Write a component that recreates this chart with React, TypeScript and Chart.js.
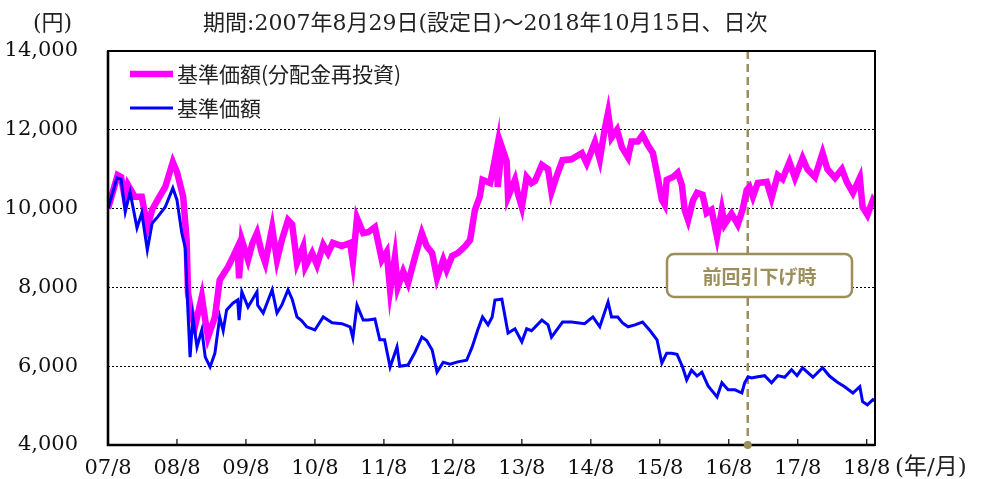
import React, { useEffect, useRef } from 'react';
import { Chart, registerables } from 'chart.js';

Chart.register(...registerables);

// ---- data ----
const xTickLabels = ['07/8', '08/8', '09/8', '10/8', '11/8', '12/8', '13/8', '14/8', '15/8', '16/8', '17/8', '18/8'];
const yTickLabels = ['4,000', '6,000', '8,000', '10,000', '12,000', '14,000'];
const seriesNames = ['基準価額(分配金再投資)', '基準価額'];
const titleText = '期間:2007年8月29日(設定日)～2018年10月15日、日次';
const yUnit = '(円)';
const xUnit = '(年/月)';
const markerLabel = '前回引下げ時';
const markerYear = 9.275; // years after 2007/8
const xMax = 11.12;

// years since 2007/8
const reinvestYears = [
  0.00, 0.14, 0.19, 0.25, 0.29, 0.39, 0.49, 0.57, 0.64, 0.72, 0.83, 0.94, 1.00, 1.09, 1.14, 1.16,
  1.22, 1.26, 1.36, 1.41, 1.45, 1.55, 1.62, 1.74, 1.81, 1.88, 1.90, 1.94, 2.03, 2.09, 2.16, 2.23,
  2.28, 2.38, 2.45, 2.52, 2.61, 2.67, 2.74, 2.83, 2.86, 2.96, 3.03, 3.12, 3.19, 3.26, 3.39, 3.51,
  3.55, 3.61, 3.70, 3.77, 3.87, 3.91, 3.97, 4.04, 4.09, 4.16, 4.20, 4.28, 4.35, 4.45, 4.55, 4.62,
  4.70, 4.77, 4.86, 4.91, 4.99, 5.07, 5.17, 5.25, 5.32, 5.39, 5.43, 5.54, 5.58, 5.64, 5.65, 5.71,
  5.78, 5.80, 5.90, 5.94, 6.00, 6.07, 6.14, 6.19, 6.29, 6.38, 6.43, 6.51, 6.59, 6.72, 6.87, 6.94,
  7.06, 7.13, 7.20, 7.25, 7.30, 7.38, 7.45, 7.54, 7.59, 7.68, 7.75, 7.83, 7.90, 7.97, 8.03, 8.07,
  8.10, 8.19, 8.26, 8.32, 8.36, 8.41, 8.48, 8.54, 8.62, 8.68, 8.75, 8.83, 8.90, 8.94, 9.04, 9.13,
  9.20, 9.26, 9.30, 9.35, 9.42, 9.55, 9.62, 9.71, 9.78, 9.88, 9.96, 10.07, 10.14, 10.25, 10.36, 10.43,
  10.54, 10.64, 10.71, 10.80, 10.90, 10.94, 11.01, 11.09, 11.12,
];
const reinvestValues = [
  10000, 10850, 10800, 10220, 10600, 10300, 10300, 9530, 9970, 10220, 10550, 11180, 10930, 10300, 9200, 7860,
  7250, 7000, 7760, 7170, 6740, 7250, 8190, 8520, 8770, 9030, 8230, 9200, 8700, 9100, 9380, 8870,
  8620, 9510, 8700, 9200, 9710, 9600, 8620, 9030, 8520, 8870, 8570, 9080, 8870, 9130, 9050, 9130,
  8650, 9760, 9380, 9400, 9530, 9200, 8700, 8900, 7940, 8770, 8000, 8400, 8110, 8770, 9380, 9050,
  8870, 8240, 8700, 8450, 8800, 8870, 9030, 9200, 9970, 10300, 10730, 10650, 10980, 11540, 10550, 11560,
  11200, 10300, 10730, 10400, 10040, 10800, 10650, 10700, 11110, 11000, 10420, 10850, 11230, 11250, 11410, 11150,
  11690, 11250, 12000, 12430, 11800, 12000, 11560, 11300, 11700, 11700, 11870, 11600, 11410, 10800, 10220, 10100,
  10730, 10800, 10910, 10600, 9970, 9710, 10200, 10400, 10350, 9890, 9970, 9280, 9970, 9600, 9870, 9600,
  9970, 10470, 10550, 10300, 10650, 10680, 10270, 10850, 10750, 11180, 10780, 11280, 11000, 10800, 11410, 11000,
  10780, 11000, 10680, 10400, 10780, 10040, 9840, 10220, 10150,
];

const navYears = [
  0.00, 0.13, 0.19, 0.25, 0.32, 0.42, 0.49, 0.57, 0.64, 0.72, 0.83, 0.94, 1.00, 1.07, 1.12, 1.16,
  1.19, 1.23, 1.29, 1.36, 1.41, 1.48, 1.55, 1.62, 1.67, 1.72, 1.81, 1.88, 1.90, 1.94, 2.03, 2.16,
  2.17, 2.25, 2.38, 2.45, 2.52, 2.61, 2.67, 2.74, 2.81, 2.88, 3.00, 3.12, 3.25, 3.39, 3.51, 3.55,
  3.61, 3.70, 3.77, 3.87, 3.94, 4.01, 4.09, 4.19, 4.23, 4.35, 4.45, 4.55, 4.62, 4.70, 4.77, 4.86,
  4.96, 5.07, 5.20, 5.28, 5.36, 5.43, 5.51, 5.57, 5.61, 5.71, 5.80, 5.90, 6.00, 6.07, 6.14, 6.29,
  6.38, 6.43, 6.59, 6.72, 6.91, 7.03, 7.13, 7.25, 7.30, 7.39, 7.46, 7.54, 7.64, 7.75, 7.86, 7.96,
  8.03, 8.10, 8.17, 8.25, 8.33, 8.39, 8.46, 8.54, 8.61, 8.70, 8.83, 8.90, 8.99, 9.09, 9.19, 9.23,
  9.28, 9.33, 9.42, 9.52, 9.62, 9.71, 9.81, 9.91, 9.99, 10.07, 10.22, 10.36, 10.46, 10.57, 10.68, 10.80,
  10.90, 10.94, 11.01, 11.09, 11.12,
];
const navValues = [
  10000, 10780, 10750, 9920, 10420, 9510, 9890, 8950, 9630, 9790, 10040, 10520, 10220, 9380, 9000, 7350,
  6230, 7250, 6490, 6920, 6230, 5980, 6330, 7250, 6900, 7430, 7600, 7680, 7170, 7890, 7500, 7890,
  7550, 7350, 7940, 7350, 7550, 7940, 7700, 7250, 7150, 7000, 6920, 7250, 7100, 7080, 7000, 6720,
  7550, 7170, 7170, 7200, 6670, 6670, 5980, 6490, 6000, 6030, 6350, 6740, 6650, 6410, 5850, 6100,
  6050, 6110, 6150, 6490, 6920, 7250, 7050, 7250, 7680, 7700, 6840, 6950, 6620, 6950, 6900, 7170,
  7050, 6740, 7120, 7120, 7080, 7250, 7000, 7630, 7250, 7250, 7100, 7000, 7050, 7120, 6900, 6670,
  6080, 6330, 6330, 6300, 5980, 5650, 5900, 5750, 5850, 5500, 5220, 5580, 5400, 5400, 5320, 5580,
  5730, 5700, 5730, 5760, 5580, 5760, 5720, 5910, 5760, 5960, 5720, 5960, 5750, 5600, 5480, 5320,
  5480, 5100, 5020, 5150, 5120,
];

const OLIVE = '#9c8f5b';
const NUM_FONT = "'DejaVu Serif', 'Noto Sans CJK JP', serif";
const JP_FONT = "'DejaVu Serif', 'Noto Sans CJK JP', sans-serif";
const SANS_JP = "'Noto Sans CJK JP', sans-serif";

const decorPlugin = {
  id: 'decor',
  beforeDatasetsDraw(chart: any) {
    const { ctx, chartArea, scales } = chart;
    const x = scales.x.getPixelForValue(markerYear);
    ctx.save();
    ctx.strokeStyle = OLIVE;
    ctx.lineWidth = 2.5;
    ctx.setLineDash([8, 5]);
    ctx.beginPath();
    ctx.moveTo(x, chartArea.top);
    ctx.lineTo(x, chartArea.bottom);
    ctx.stroke();
    ctx.restore();
  },
  afterDatasetsDraw(chart: any) {
    const { ctx, chartArea, scales } = chart;
    const { left, right, top, bottom } = chartArea;
    ctx.save();
    // frame
    ctx.strokeStyle = '#000';
    ctx.setLineDash([]);
    ctx.lineWidth = 2;
    ctx.strokeRect(left, top, right - left, bottom - top);
    ctx.lineWidth = 2.6;
    ctx.beginPath();
    ctx.moveTo(left, top);
    ctx.lineTo(left, bottom);
    ctx.lineTo(right, bottom);
    ctx.stroke();
    // inner tick marks
    ctx.lineWidth = 1.2;
    for (let i = 1; i < xTickLabels.length; i++) {
      const px = scales.x.getPixelForValue(i);
      ctx.beginPath();
      ctx.moveTo(px, bottom);
      ctx.lineTo(px, bottom - 6);
      ctx.stroke();
    }
    // marker dot
    const mx = scales.x.getPixelForValue(markerYear);
    ctx.fillStyle = OLIVE;
    ctx.beginPath();
    ctx.arc(mx, bottom, 4, 0, Math.PI * 2);
    ctx.fill();
    // marker label box
    const bx = 667, by = 254, bw = 185, bh = 43, r = 7;
    ctx.beginPath();
    ctx.moveTo(bx + r, by);
    ctx.arcTo(bx + bw, by, bx + bw, by + bh, r);
    ctx.arcTo(bx + bw, by + bh, bx, by + bh, r);
    ctx.arcTo(bx, by + bh, bx, by, r);
    ctx.arcTo(bx, by, bx + bw, by, r);
    ctx.closePath();
    ctx.fillStyle = '#fff';
    ctx.fill();
    ctx.strokeStyle = OLIVE;
    ctx.lineWidth = 2.5;
    ctx.stroke();
    ctx.fillStyle = OLIVE;
    ctx.font = `bold 19px ${SANS_JP}`;
    ctx.textAlign = 'center';
    ctx.textBaseline = 'middle';
    ctx.fillText(markerLabel, bx + bw / 2, by + bh / 2 + 1);

    // legend
    ctx.lineCap = 'butt';
    ctx.strokeStyle = '#ff00ff';
    ctx.lineWidth = 6.5;
    ctx.beginPath();
    ctx.moveTo(130, 74);
    ctx.lineTo(173, 74);
    ctx.stroke();
    ctx.strokeStyle = '#0000ff';
    ctx.lineWidth = 3;
    ctx.beginPath();
    ctx.moveTo(130, 108);
    ctx.lineTo(173, 108);
    ctx.stroke();
    ctx.fillStyle = '#222';
    ctx.font = `21px ${SANS_JP}`;
    ctx.textAlign = 'left';
    ctx.textBaseline = 'middle';
    ctx.fillText(seriesNames[0], 177, 74);
    ctx.fillText(seriesNames[1], 177, 108);

    // title and units
    ctx.fillStyle = '#222';
    ctx.font = `22px ${JP_FONT}`;
    ctx.fillText(titleText, 203, 24);
    ctx.fillText(yUnit, 33, 24);
    ctx.font = `23px ${JP_FONT}`;
    ctx.fillText(xUnit, 895, 468);
    ctx.restore();
  },
};

export default function App() {
  const ref = useRef<HTMLCanvasElement | null>(null);
  useEffect(() => {
    if (!ref.current) return;
    const chart = new Chart(ref.current, {
      type: 'line',
      data: {
        datasets: [
          {
            label: seriesNames[1],
            data: navYears.map((t, i) => ({ x: t, y: navValues[i] })),
            borderColor: '#0000ff',
            borderWidth: 3,
            pointRadius: 0,
            tension: 0,
            order: 0,
          },
          {
            label: seriesNames[0],
            data: reinvestYears.map((t, i) => ({ x: t, y: reinvestValues[i] })),
            borderColor: '#ff00ff',
            borderWidth: 6.5,
            pointRadius: 0,
            tension: 0,
            order: 1,
          },
        ],
      },
      options: {
        responsive: false,
        animation: false,
        layout: { padding: { left: 0, right: 106, top: 51, bottom: 0 } },
        plugins: {
          legend: { display: false },
          tooltip: { enabled: false },
          title: { display: false },
        },
        scales: {
          x: {
            type: 'linear',
            min: 0,
            max: xMax,
            afterFit: (s: any) => { s.height = 34; },
            grid: { display: false, drawTicks: false },
            border: { display: false },
            ticks: {
              stepSize: 1,
              includeBounds: false,
              autoSkip: false,
              maxRotation: 0,
              padding: 11,
              color: '#111',
              font: { family: NUM_FONT, size: 21 },
              callback: (v: any) => {
                const i = Math.round(Number(v));
                return Math.abs(Number(v) - i) < 1e-6 ? (xTickLabels[i] ?? '') : '';
              },
            },
          },
          y: {
            type: 'linear',
            min: 4000,
            max: 14000,
            afterFit: (s: any) => {
              s.width = 108;
              s.paddingTop = 12;
              s.paddingBottom = 12;
            },
            grid: { color: '#000', lineWidth: 1, drawTicks: false },
            border: { display: false, dash: [2, 2] },
            ticks: {
              stepSize: 2000,
              padding: 30,
              color: '#111',
              font: { family: NUM_FONT, size: 21 },
              callback: (v: any) => yTickLabels[Math.round((Number(v) - 4000) / 2000)] ?? '',
            },
          },
        },
      },
      plugins: [decorPlugin],
    });
    return () => chart.destroy();
  }, []);
  return (
    <div style={{ position: 'fixed', left: 0, top: 0, width: 981, height: 479, background: '#fff' }}>
      <canvas ref={ref} width={981} height={479} style={{ width: 981, height: 479, display: 'block' }} />
    </div>
  );
}
